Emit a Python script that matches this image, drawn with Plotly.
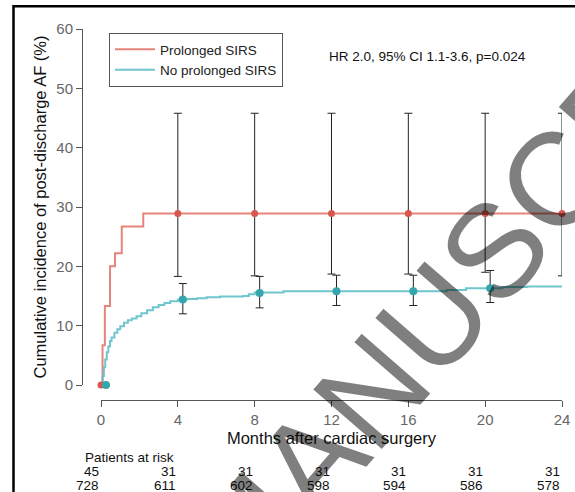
import plotly.graph_objects as go

W, H = 575, 492

# ---------------- data ----------------
# Prolonged SIRS (n=45) cumulative incidence step curve
sirs_t = [0, 0.08, 0.2, 0.47, 0.73, 1.08, 2.2, 24.0]
sirs_v = [0, 6.7, 13.3, 20.0, 22.2, 26.7, 28.9, 28.9]

# No prolonged SIRS (n=728) cumulative incidence step curve
nosirs_t = [0, 0.08, 0.15, 0.22, 0.3, 0.38, 0.47, 0.55, 0.7, 0.85, 1.0, 1.2, 1.4,
            1.6, 1.85, 2.1, 2.4, 2.7, 3.0, 3.3, 3.6, 4.0, 4.5, 5.0, 5.5, 6.2,
            7.4, 7.7, 8.0, 9.5, 12.0, 16.0, 18.0, 19.0, 20.9, 22.2, 24.3]
nosirs_v = [0, 1.5, 3.0, 4.3, 5.5, 6.5, 7.4, 8.0, 8.8, 9.4, 9.9, 10.5, 10.9,
            11.2, 11.6, 12.1, 12.6, 13.1, 13.5, 13.8, 14.1, 14.4, 14.5, 14.6, 14.8, 14.9,
            15.0, 15.3, 15.6, 15.8, 15.8, 15.8, 16.0, 16.3, 16.5, 16.6, 16.6]

# estimates with 95% CI at landmark months
mark_months = [0, 4, 8, 12, 16, 20, 24]
sirs_est = [0, 28.9, 28.9, 28.9, 28.9, 28.9, 28.9]
sirs_lo = [0, 18.3, 18.4, 18.7, 18.7, 19.0, 18.4]
sirs_hi = [0, 45.8, 45.8, 45.8, 45.8, 45.8, 45.8]

nosirs_est = [0, 14.4, 15.5, 15.8, 15.8, 16.3, 16.6]
nosirs_lo = [0, 12.0, 13.0, 13.4, 13.4, 13.9, 14.2]
nosirs_hi = [0, 17.1, 18.3, 18.5, 18.5, 19.3, 19.5]
nosirs_shift = 0.26  # marks drawn slightly right of the landmark

# patients at risk
risk_sirs = [45, 31, 31, 31, 31, 31, 31]
risk_nosirs = [728, 611, 602, 598, 594, 586, 578]

x_ticks = [0, 4, 8, 12, 16, 20, 24]
y_ticks = [0, 10, 20, 30, 40, 50, 60]

RED_LINE = "rgba(226,110,100,0.85)"
RED_MARK = "#d9574e"
CY_LINE = "rgba(95,192,200,0.9)"
CY_MARK = "#34a6ae"
FONT = "Liberation Sans, Arial, sans-serif"

fig = go.Figure()

fig.add_trace(go.Scatter(x=sirs_t, y=sirs_v, mode="lines", line=dict(color=RED_LINE, width=2, shape="hv"),
                         name="Prolonged SIRS"))
fig.add_trace(go.Scatter(x=nosirs_t, y=nosirs_v, mode="lines", line=dict(color=CY_LINE, width=2, shape="hv"),
                         name="No prolonged SIRS"))

fig.add_trace(go.Scatter(
    x=mark_months, y=sirs_est, mode="markers", showlegend=False, cliponaxis=False,
    marker=dict(color=RED_MARK, size=7),
    error_y=dict(type="data", symmetric=False,
                 array=[h - e for h, e in zip(sirs_hi, sirs_est)],
                 arrayminus=[e - l for e, l in zip(sirs_est, sirs_lo)],
                 color="#222222", thickness=1, width=4)))

fig.add_trace(go.Scatter(
    x=[m + nosirs_shift for m in mark_months], y=nosirs_est, mode="markers", showlegend=False, cliponaxis=False,
    marker=dict(color=CY_MARK, size=8),
    error_y=dict(type="data", symmetric=False,
                 array=[h - e for h, e in zip(nosirs_hi, nosirs_est)],
                 arrayminus=[e - l for e, l in zip(nosirs_est, nosirs_lo)],
                 color="#222222", thickness=1, width=4)))

xd0, xd1 = 101 / W, 562 / W
yd0, yd1 = 1 - 385 / H, 1 - 29 / H

fig.update_layout(
    width=W, height=H,
    margin=dict(l=0, r=0, t=0, b=0),
    paper_bgcolor="white", plot_bgcolor="white",
    font=dict(family=FONT, color="#222"),
    showlegend=True,
    legend=dict(x=109 / W, y=1 - 33 / H, xanchor="left", yanchor="top",
                bgcolor="white", bordercolor="#555", borderwidth=1,
                font=dict(size=13.5, color="#222", family=FONT),
                tracegroupgap=0, itemwidth=40),
    xaxis=dict(domain=[xd0, xd1], range=[0, 24], anchor="free", position=1 - 400 / H,
               tickmode="array", tickvals=x_ticks, ticktext=[str(t) for t in x_ticks],
               ticks="outside", ticklen=6, tickcolor="#555", tickwidth=1,
               showline=True, linecolor="#555", linewidth=1, showgrid=False, zeroline=False,
               tickfont=dict(size=15, color="#666"),
               title=dict(text="Months after cardiac surgery", font=dict(size=16.5, color="#111"), standoff=5),
               automargin=False),
    yaxis=dict(domain=[yd0, yd1], range=[0, 60], anchor="free", position=82 / W,
               tickmode="array", tickvals=y_ticks, ticktext=[str(t) for t in y_ticks],
               ticks="outside", ticklen=6, tickcolor="#555", tickwidth=1,
               showline=True, linecolor="#555", linewidth=1, showgrid=False, zeroline=False,
               tickfont=dict(size=15, color="#666"),
               title=dict(text="Cumulative incidence of post-discharge AF (%)", font=dict(size=16.5, color="#111"), standoff=4),
               automargin=False),
)

ann = []
ann.append(dict(text="HR 2.0, 95% CI 1.1-3.6, p=0.024", x=327 / W, y=1 - 57 / H, xref="paper", yref="paper",
                xanchor="left", yanchor="middle", showarrow=False, font=dict(size=13.5, color="#111")))
ann.append(dict(text="Patients at risk", x=83 / W, y=1 - 457 / H, xref="paper", yref="paper",
                xanchor="left", yanchor="middle", showarrow=False, font=dict(size=13.5, color="#111")))
for m, a, b in zip(x_ticks, risk_sirs, risk_nosirs):
    ann.append(dict(text=str(a), x=m, y=1 - 471 / H, xref="x", yref="paper", xanchor="right", yanchor="middle",
                    showarrow=False, font=dict(size=13.5, color="#111")))
    ann.append(dict(text=str(b), x=m, y=1 - 485 / H, xref="x", yref="paper", xanchor="right", yanchor="middle",
                    showarrow=False, font=dict(size=13.5, color="#111")))
# watermark
ann.append(dict(text="MANUSCRIPT", x=497 / W, y=1 - 248 / H, xref="paper", yref="paper",
                xanchor="center", yanchor="middle", showarrow=False, textangle=-49,
                font=dict(size=132, color="rgba(0,0,0,0.5)", family=FONT)))
fig.update_layout(annotations=ann)

# page frame (top and left edges visible)
fig.add_shape(type="rect", xref="paper", yref="paper", x0=13.5 / W, x1=1.2, y0=-0.2, y1=1 - 6.3 / H,
              line=dict(color="black", width=2.5), fillcolor="rgba(0,0,0,0)", layer="above")

fig.write_html("out.html", config={"displayModeBar": False},
               post_script="document.body.style.margin='0';document.body.style.overflow='hidden';")
